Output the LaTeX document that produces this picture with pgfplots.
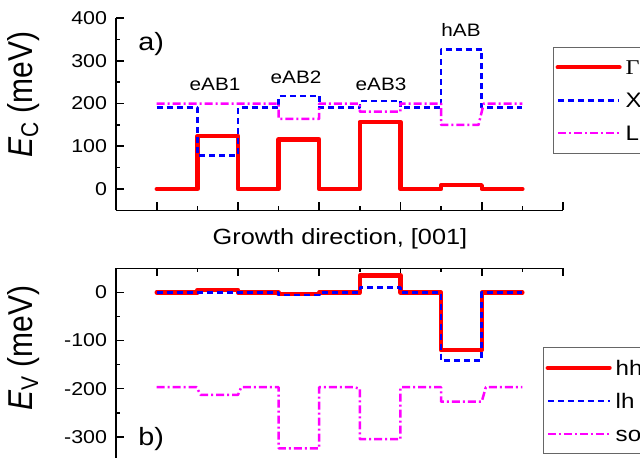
\documentclass[border=0pt]{standalone}
\usepackage{fontspec}
\setmainfont{Liberation Sans}[FakeStretch=1.15]
\newfontfamily\rotfont{Liberation Sans}[FakeStretch=0.87]
\newfontfamily\greekfont{Liberation Serif}[FakeStretch=1.15]
\usepackage{pgfplots}
\pgfplotsset{compat=1.18}

\definecolor{cred}{RGB}{255,0,0}
\definecolor{cblue}{RGB}{0,0,255}
\definecolor{cmag}{RGB}{255,0,255}

\pgfplotsset{
  band/.style={
    scale only axis, width=223.45pt, height=96.2pt,
    xmin=0, xmax=11,
    xtick={1,3,5,7,9,11}, minor xtick={2,4,6,8,10},
    xticklabels={},
    axis y line*=left,
    axis line style={line width=0.8pt, black},
    every tick/.style={black, line width=0.8pt},
    major tick length=4pt, minor tick length=2pt,
    tick align=inside,
    yticklabel style={font=\fontsize{9.3}{11}\selectfont, xshift=-1pt},
    /pgf/number format/assume math mode=true,
    clip=false,
    legend cell align=left,
    legend style={draw=black!60, line width=0.5pt,
      font=\fontsize{10.5}{12}\selectfont, anchor=north west,
      inner xsep=1.2pt, inner ysep=4.2pt, row sep=4.9pt,
      nodes={inner xsep=2pt, inner ysep=2pt, text height=7.6pt, text depth=0pt}},
    legend image code/.code={\draw[##1] (0pt,0pt) -- (30.85pt,0pt);},
  },
  gam/.style={cred, line width=2.2pt, line join=round, line cap=round},
  xs/.style={cblue, line width=1.3pt, dash pattern=on 3pt off 2pt, line join=round},
  ls/.style={cmag, line width=1.25pt, dash pattern=on 4pt off 1.5pt on 1pt off 1.5pt, line join=round},
}

\begin{document}
\begin{tikzpicture}
\path[use as bounding box] (0,0) rectangle (320pt,228.5pt);
\clip (0,0) rectangle (320pt,228.5pt);

% ---------- top: conduction band ----------
\begin{axis}[band, at={(58.05pt,123.3pt)}, anchor=south west,
  axis x line*=bottom,
  ymin=-50, ymax=400,
  ytick={0,100,200,300,400}, minor ytick={50,150,250,350},
  legend style={at={(0.9769,0.8508)}}]
\addplot[gam] coordinates {(1,0)(2,0)(2,124)(3,124)(3,0)(4,0)(4,116)(5,116)(5,0)(6,0)(6,157)(7,157)(7,0)(8,0)(8,9)(9,9)(9,0)(10,0)};
\addlegendentry{{\greekfont\symbol{"0393}}}
\addplot[xs] coordinates {(1,190)(2,190)(2,79)(3,79)(3,190)(4,190)(4,218)(5,218)(5,190)(6,190)(6,206)(7,206)(7,190)(8,190)(8,327)(9,327)(9,190)(10,190)};
\addlegendentry{X}
\addplot[ls] coordinates {(1,200)(2,200)(3,200)(4,200)(4,164)(5,164)(5,200)(6,200)(6,181)(7,181)(7,200)(8,200)(8,150)(8.92,150)(9.05,200)(10,200)};
\addlegendentry{L}
\end{axis}

% ---------- bottom: valence band ----------
\begin{axis}[band, at={(58.05pt,-1.9pt)}, anchor=south west,
  axis x line*=top,
  ymin=-350, ymax=50,
  ytick={-300,-200,-100,0}, yticklabels={-300,-200,-100,0},
  minor ytick={-250,-150,-50},
  legend style={at={(0.9546,0.5896)}}]
\addplot[gam] coordinates {(1,0)(2,0)(2,5)(3,5)(3,0)(4,0)(4,-3)(5,-3)(5,0)(6,0)(6,35)(7,35)(7,0)(8,0)(8,-120)(9,-120)(9,0)(10,0)};
\addlegendentry{hh}
\addplot[xs] coordinates {(1,0)(4,0)(4,-5)(5,-5)(5,0)(6,0)(6,10)(7,10)(7,0)(8,0)(8,-141)(9,-141)(9,0)(10,0)};
\addlegendentry{lh}
\addplot[ls] coordinates {(1,-197)(1.98,-197)(2.08,-213)(3,-213)(3.08,-197)(4,-197)(4,-324)(5,-324)(5,-197)(5.85,-197)(6,-200)(6,-305)(7,-305)(7,-197)(8,-197)(8,-227)(9,-227)(9.1,-197)(10,-197)};
\addlegendentry{so}
\end{axis}

% ---------- texts ----------
\node[anchor=base, font=\fontsize{11}{13}\selectfont] at (170pt,106.5pt) {Growth direction, [001]};
\node[anchor=base, font=\fontsize{9}{11}\selectfont] at (107.5pt,183.5pt) {eAB1};
\node[anchor=base, font=\fontsize{9}{11}\selectfont] at (148pt,186.85pt) {eAB2};
\node[anchor=base, font=\fontsize{9}{11}\selectfont] at (190.5pt,183.5pt) {eAB3};
\node[anchor=base, font=\fontsize{9}{11}\selectfont] at (230.5pt,210.5pt) {hAB};
\node[anchor=base west, inner sep=0pt, font=\fontsize{12.5}{14}\selectfont] at (69pt,203.5pt) {a)};
\node[anchor=base west, inner sep=0pt, font=\fontsize{12.5}{14}\selectfont] at (69pt,6pt) {b)};
\node[rotate=90, anchor=base, inner sep=0pt, font=\rotfont\fontsize{17.25}{20}\selectfont] at (16.5pt,181.25pt) {{\itshape E}\textsubscript{C} (meV)};
\node[rotate=90, anchor=base, inner sep=0pt, font=\rotfont\fontsize{17.25}{20}\selectfont] at (16.5pt,54.35pt) {{\itshape E}\textsubscript{V} (meV)};
\end{tikzpicture}
\end{document}
